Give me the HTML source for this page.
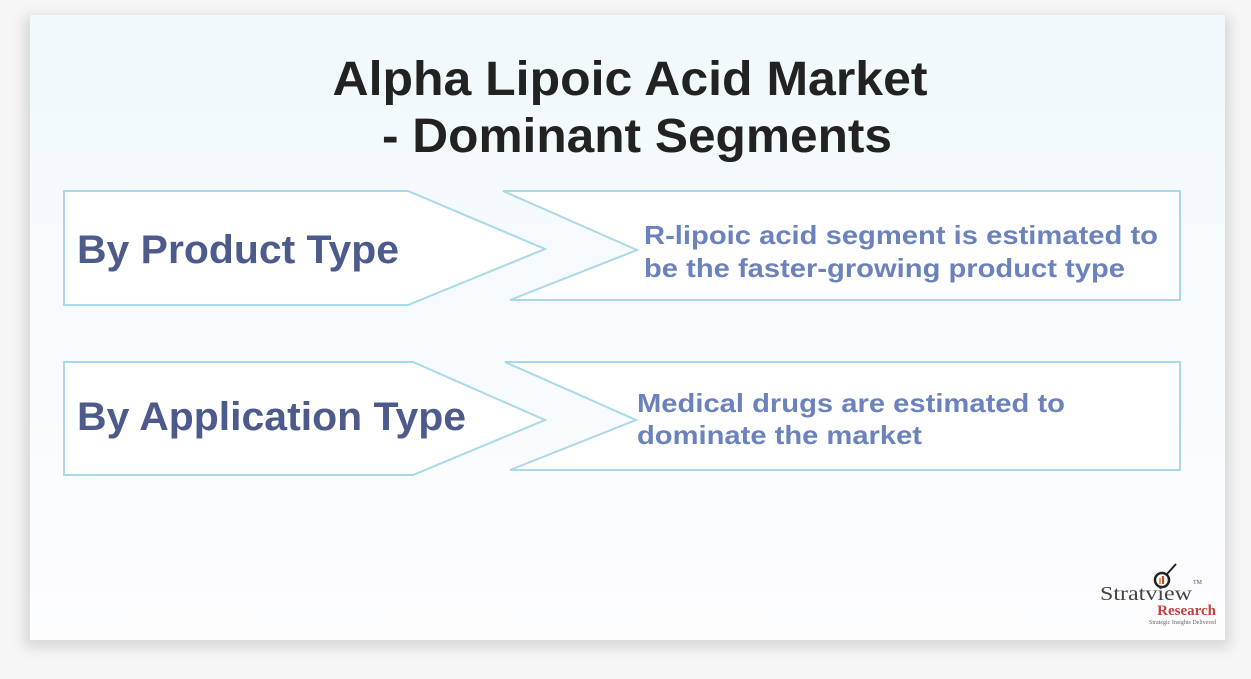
<!DOCTYPE html>
<html><head><meta charset="utf-8"><style>
html,body{margin:0;padding:0;width:1251px;height:679px;overflow:hidden;background:#f6f6f6;}
svg{display:block}
</style></head><body>
<svg width="1251" height="679" xmlns="http://www.w3.org/2000/svg" font-family="Liberation Sans, Arial, sans-serif" font-weight="bold">
<defs>
<linearGradient id="bg" x1="0" y1="0" x2="0" y2="1">
<stop offset="0" stop-color="#f1f9fc"/>
<stop offset="0.45" stop-color="#f6fafd"/>
<stop offset="1" stop-color="#fdfdfe"/>
</linearGradient>
<filter id="sh" x="-5%" y="-5%" width="110%" height="110%"><feGaussianBlur stdDeviation="6"/></filter>
</defs>
<rect x="24" y="16" width="1206" height="632" fill="#d8d8d8" filter="url(#sh)"/>
<rect x="30" y="15" width="1195" height="625" fill="url(#bg)"/>
<text x="630" y="95" text-anchor="middle" font-size="48" fill="#222" textLength="595" lengthAdjust="spacingAndGlyphs">Alpha Lipoic Acid Market</text>
<text x="637" y="152" text-anchor="middle" font-size="48" fill="#222" textLength="510" lengthAdjust="spacingAndGlyphs">- Dominant Segments</text>
<g fill="#fff" stroke="#a9d9e8" stroke-width="2">
<polygon points="64,191 408,191 545,249 408,305 64,305"/>
<polygon points="503,191 1180,191 1180,300 510,300 637,250"/>
<polygon points="64,362 413,362 545,420 413,475 64,475"/>
<polygon points="505,362 1180,362 1180,470 510,470 636,420"/>
</g>
<g fill="#4c5a8c" font-size="40">
<text x="77" y="263" textLength="322" lengthAdjust="spacingAndGlyphs">By Product Type</text>
<text x="77" y="430" textLength="389" lengthAdjust="spacingAndGlyphs">By Application Type</text>
</g>
<g fill="#6b82bd" font-size="26">
<text x="644" y="244" textLength="514" lengthAdjust="spacingAndGlyphs">R-lipoic acid segment is estimated to</text>
<text x="644" y="277" textLength="481" lengthAdjust="spacingAndGlyphs">be the faster-growing product type</text>
<text x="637" y="412" textLength="428" lengthAdjust="spacingAndGlyphs">Medical drugs are estimated to</text>
<text x="637" y="444" textLength="285" lengthAdjust="spacingAndGlyphs">dominate the market</text>
</g>
<g font-family="Liberation Serif, serif">
<circle cx="1162" cy="580" r="7" fill="none" stroke="#222" stroke-width="2.5"/>
<rect x="1159" y="578" width="2" height="6" fill="#e8a030" stroke="none"/>
<rect x="1162" y="576" width="2" height="8" fill="#d04030" stroke="none"/>
<line x1="1167" y1="574" x2="1176" y2="564" stroke="#222" stroke-width="2"/>
<text x="1100" y="600" font-size="20" font-weight="normal" fill="#444" textLength="92" lengthAdjust="spacingAndGlyphs">Stratview</text>
<text x="1193" y="584" font-size="6" font-weight="normal" fill="#555">TM</text>
<text x="1216" y="615" text-anchor="end" font-size="15" fill="#c8403a">Research</text>
<text x="1216" y="624" text-anchor="end" font-size="6" font-weight="normal" fill="#666">Strategic Insights Delivered</text>
</g>
</svg>
</body></html>
